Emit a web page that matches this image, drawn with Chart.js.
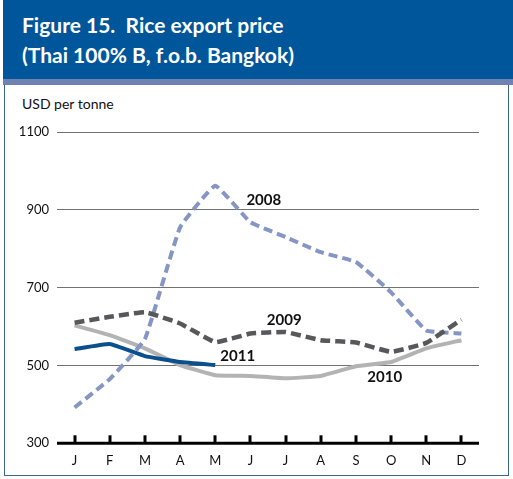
<!DOCTYPE html>
<html lang="en">
<head>
    <meta charset="UTF-8">
    <script src="https://cdn.jsdelivr.net/npm/chart.js"></script>
    <title>Rice export price</title>
    <style>
      body { margin: 0; background: #fff; }
      #wrap { position: relative; width: 513px; height: 479px; overflow: hidden; font-family: Lato, "Open Sans", sans-serif; }
      #head { position: absolute; left: 3px; top: 0; width: 510px; height: 79px; background: #00569a; border-bottom: 6px solid #7082b2; }
      #head div { position: absolute; left: 19px; color: #fff; font-weight: bold; font-size: 21px; white-space: pre; }
      #frame { position: absolute; left: 4px; top: 85px; width: 503px; height: 390px; border: 1.5px solid #3b6893; border-top: none; }
      #unit { position: absolute; left: 22px; top: 95px; font-size: 14px; color: #111; }
      #cv { position: absolute; left: 0; top: 0; }
    </style>
</head>
<body>
  <div id="wrap">
    <div id="head">
      <div style="top: 12px">Figure 15.  Rice export price</div>
      <div style="top: 42px">(Thai 100% B, f.o.b. Bangkok)</div>
    </div>
    <div id="frame"></div>
    <div id="unit">USD per tonne</div>
    <canvas id="cv" width="513" height="479"></canvas>
  </div>

  <script>
    const months = ['J', 'F', 'M', 'A', 'M', 'J', 'J', 'A', 'S', 'O', 'N', 'D'];
    const y2008 = [392, 465, 568, 855, 962, 868, 830, 791, 766, 688, 590, 582];
    const y2009 = [610, 625, 637, 608, 560, 582, 586, 565, 559, 535, 558, 618];
    const y2010 = [603, 578, 544, 501, 475, 473, 467, 473, 498, 509, 544, 565];
    const y2011 = [542, 555, 524, 509, 501];
    const yTicks = [300, 500, 700, 900, 1100];
    // series labels: [text, category position, value]
    const seriesLabels = [['2008', 5.38, 924], ['2009', 5.96, 616], ['2010', 8.82, 470], ['2011', 4.64, 524]];

    const ctx = document.getElementById('cv');

    const axisPlugin = {
      id: 'axisPlugin',
      afterDatasetsDraw(chart) {
        const c = chart.ctx;
        const x = chart.scales.x, y = chart.scales.y;
        const base = y.getPixelForValue(300);
        c.save();
        c.strokeStyle = '#000';
        c.lineWidth = 3;
        c.beginPath();
        c.moveTo(chart.chartArea.left, base);
        c.lineTo(chart.chartArea.right, base);
        c.stroke();
        for (let i = 0; i < months.length; i++) {
          const px = Math.round(x.getPixelForTick(i));
          c.beginPath();
          c.moveTo(px, base);
          c.lineTo(px, base - 8);
          c.stroke();
        }
        c.fillStyle = '#111';
        c.font = 'bold 15px Lato, "Open Sans", sans-serif';
        c.textAlign = 'center';
        c.textBaseline = 'middle';
        seriesLabels.forEach(([t, pos, v]) => {
          const px = x.getPixelForDecimal((pos + 0.5) / months.length);
          c.fillText(t, px, y.getPixelForValue(v));
        });
        c.restore();
      }
    };

    new Chart(ctx, {
      type: 'line',
      data: {
        labels: months,
        datasets: [
          { label: '2010', data: y2010, borderColor: '#b3b3b3', borderWidth: 4, order: 4 },
          { label: '2011', data: y2011, borderColor: '#0b4f8c', borderWidth: 4, order: 3 },
          { label: '2008', data: y2008, borderColor: '#8595c4', borderWidth: 4, borderDash: [9, 5], order: 2 },
          { label: '2009', data: y2009, borderColor: '#58585a', borderWidth: 4.5, borderDash: [10, 5], order: 1 }
        ]
      },
      options: {
        responsive: false,
        animation: false,
        devicePixelRatio: 1,
        layout: { padding: { top: 132, right: 34, left: 0, bottom: 0 } },
        elements: {
          point: { radius: 0 },
          line: { tension: 0.1, borderCapStyle: 'butt', borderJoinStyle: 'round', fill: false }
        },
        plugins: { legend: { display: false }, tooltip: { enabled: false } },
        scales: {
          x: {
            offset: true,
            grid: { display: false, drawTicks: false },
            border: { display: false },
            ticks: { color: '#111', padding: 10, font: { family: 'Lato, "Open Sans", sans-serif', size: 13 } },
            afterFit(s) { s.height = 35.7; }
          },
          y: {
            min: 300, max: 1100,
            afterBuildTicks(s) { s.ticks = yTicks.map(v => ({ value: v })); },
            grid: { color: '#727272', lineWidth: 1, drawTicks: false },
            border: { display: false },
            ticks: {
              color: '#111', padding: 8,
              font: { family: 'Lato, "Open Sans", sans-serif', size: 13 },
              callback: v => String(v)
            },
            afterFit(s) { s.width = 57; }
          }
        }
      },
      plugins: [axisPlugin]
    });
  </script>
</body>
</html>
